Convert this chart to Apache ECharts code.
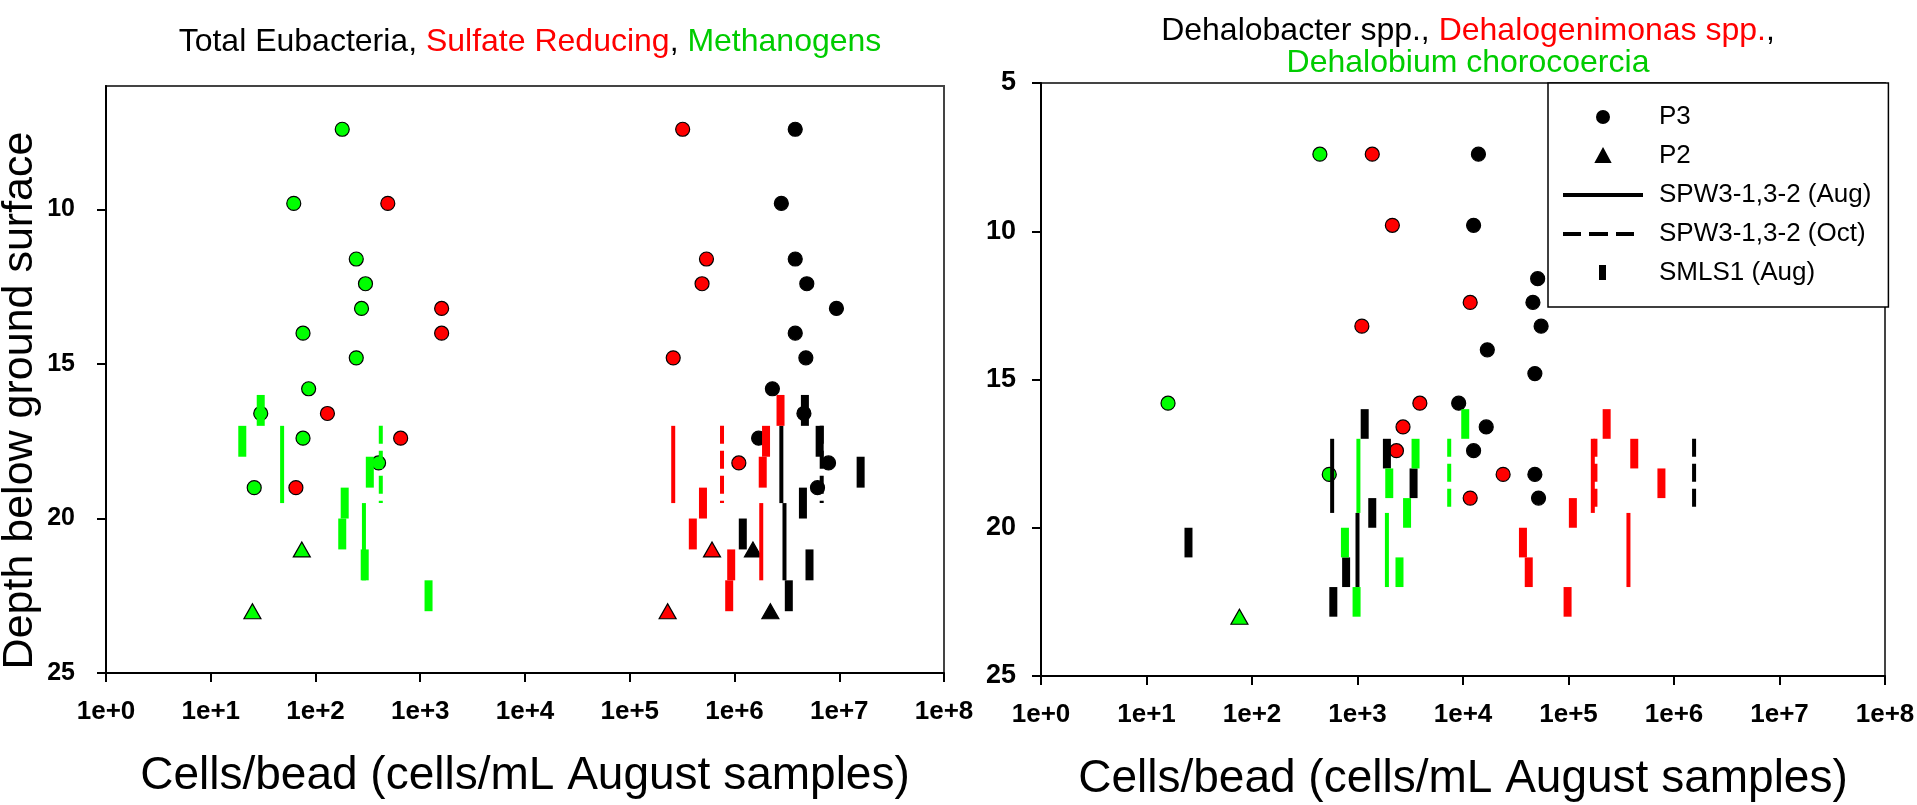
<!DOCTYPE html>
<html>
<head>
<meta charset="utf-8">
<script src="https://cdn.jsdelivr.net/npm/echarts@6/dist/echarts.min.js"></script>
<style>
  html, body { margin: 0; background: #fff; }
  #chart { width: 1917px; height: 805px; }
</style>
</head>
<body>
<div id="chart"></div>
<script>
// depths (ft below ground surface)
const P3_DEPTH = [7.4, 9.8, 11.6, 12.4, 13.2, 14.0, 14.8, 15.8, 16.6, 17.4, 18.2, 19.0];
const P2_DEPTH = [21, 23];
const SMLS1_DEPTH = [[16, 17], [17, 18], [18, 19], [19, 20], [20, 21], [21, 22], [22, 23]];
const SPW_AUG_DEPTH = [[17, 19.5], [19.5, 22]];
const SPW_OCT_DEPTH = [[17, 19.5]];

const X_TICK_LABELS = ['1e+0', '1e+1', '1e+2', '1e+3', '1e+4', '1e+5', '1e+6', '1e+7', '1e+8'];
const LEFT_Y_TICKS = [10, 15, 20, 25];

// left panel: Total Eubacteria / Sulfate Reducing / Methanogens
const eubacteriaP3 = [3.8e6, 2.8e6, 3.8e6, 4.9e6, 9.4e6, 3.8e6, 4.8e6, 2.3e6, 4.6e6, 1.7e6, 7.9e6, 6.2e6];
const eubacteriaP2 = [1.5e6, 2.2e6];
const eubacteriaSMLS1 = [4.7e6, 6.5e6, 1.6e7, 4.5e6, 1.2e6, 5.2e6, 3.3e6];
const eubacteriaSPWAug = [2.8e6, 3.0e6];
const eubacteriaSPWOct = [6.8e6];

const sulfateP3 = [3.2e5, 490, 5.4e5, 4.9e5, 1600, 1600, 2.6e5, null, 130, 650, 1.1e6, 65];
const sulfateP2 = [6.1e5, 2.3e5];
const sulfateSMLS1 = [2.75e6, 2.0e6, 1.86e6, 5.0e5, 4.0e5, 9.3e5, 8.9e5];
const sulfateSPWAug = [2.6e5, 1.8e6];
const sulfateSPWOct = [7.6e5];

const methanoP3 = [180, 62, 245, 300, 275, 76, 245, 86, 30, 76, 400, 26];
const methanoP2 = [74, 25];
const methanoSMLS1 = [30, 20, 330, 190, 180, 295, 1200];
const methanoSPWAug = [48, 290];
const methanoSPWOct = [420];

// right panel: Dehalobacter / Dehalogenimonas / Dehalobium
const dehalobacterP3 = [1.4e4, 1.26e4, 5.1e4, 4.6e4, 5.5e4, 1.7e4, 4.8e4, 9.1e3, 1.66e4, 1.26e4, 4.8e4, 5.2e4];
const dehalobacterP2 = [null, null];
const dehalobacterSMLS1 = [1170, 1900, 3400, 1380, 25, 780, 590];
const dehalobacterSPWAug = [575, 1000];
const dehalobacterSPWOct = [1.55e6];

const dehalogenimonasP3 = [1380, 2140, null, 1.17e4, 1100, null, null, 3900, 2700, 2340, 2.4e4, 1.17e4];
const dehalogenimonasP2 = [null, null];
const dehalogenimonasSMLS1 = [2.3e5, 4.2e5, 7.6e5, 1.1e5, 3.7e4, 4.2e4, 9.8e4];
const dehalogenimonasSPWAug = [1.7e5, 3.7e5];
const dehalogenimonasSPWOct = [1.8e5];

const dehalobiumP3 = [440, null, null, null, null, null, null, 16, null, null, 540, null];
const dehalobiumP2 = [null, 76];
const dehalobiumSMLS1 = [1.05e4, 3550, 2000, 2950, 760, 2500, 980];
const dehalobiumSPWAug = [1020, 1900];
const dehalobiumSPWOct = [7400];

const BLACK = '#000000';
const RED = '#ff0000';
const GREEN = '#00ff00';
const FONT = "'Liberation Sans', Arial, sans-serif";

const NAME_P3 = 'P3';
const NAME_P2 = 'P2';
const NAME_AUG = 'SPW3-1,3-2 (Aug)';
const NAME_OCT = 'SPW3-1,3-2 (Oct)';
const NAME_SMLS = 'SMLS1 (Aug)';

function pointSeries(name, grid, color, values, depths, symbol) {
  const data = [];
  values.forEach((v, i) => {
    if (v != null) data.push([v, depths[i]]);
  });
  return {
    name,
    type: 'scatter',
    xAxisIndex: grid,
    yAxisIndex: grid,
    symbol,
    symbolSize: symbol === 'triangle' ? [17, 15] : 14,
    itemStyle: { color, borderColor: '#000', borderWidth: 1.2, opacity: 1 },
    emphasis: { disabled: true },
    z: 2,
    data,
  };
}

function segmentSeries(name, grid, color, values, depths, kind) {
  const data = values.map((v, i) => [v, depths[i][0], depths[i][1]]);
  return {
    name,
    type: 'custom',
    xAxisIndex: grid,
    yAxisIndex: grid,
    encode: { x: 0, y: [1, 2] },
    itemStyle: { color },
    z: 3,
    data,
    renderItem(params, api) {
      const top = api.coord([api.value(0), api.value(1)]);
      const bot = api.coord([api.value(0), api.value(2)]);
      const c = api.visual('color');
      if (kind === 'dash') {
        return {
          type: 'line',
          shape: { x1: top[0], y1: top[1], x2: bot[0], y2: bot[1] },
          style: { stroke: c, lineWidth: 4, lineDash: [18, 7] },
        };
      }
      const w = kind === 'bar' ? 8 : 4;
      return {
        type: 'rect',
        shape: { x: top[0] - w / 2, y: top[1], width: w, height: bot[1] - top[1] },
        style: { fill: c },
      };
    },
  };
}

function groupSeries(grid, color, p3, p2, smls, aug, oct) {
  return [
    pointSeries(NAME_P3, grid, color, p3, P3_DEPTH, 'circle'),
    pointSeries(NAME_P2, grid, color, p2, P2_DEPTH, 'triangle'),
    segmentSeries(NAME_AUG, grid, color, aug, SPW_AUG_DEPTH, 'line'),
    segmentSeries(NAME_OCT, grid, color, oct, SPW_OCT_DEPTH, 'dash'),
    segmentSeries(NAME_SMLS, grid, color, smls, SMLS1_DEPTH, 'bar'),
  ];
}

const series = [
  ...groupSeries(0, BLACK, eubacteriaP3, eubacteriaP2, eubacteriaSMLS1, eubacteriaSPWAug, eubacteriaSPWOct),
  ...groupSeries(0, RED, sulfateP3, sulfateP2, sulfateSMLS1, sulfateSPWAug, sulfateSPWOct),
  ...groupSeries(0, GREEN, methanoP3, methanoP2, methanoSMLS1, methanoSPWAug, methanoSPWOct),
  ...groupSeries(1, BLACK, dehalobacterP3, dehalobacterP2, dehalobacterSMLS1, dehalobacterSPWAug, dehalobacterSPWOct),
  ...groupSeries(1, RED, dehalogenimonasP3, dehalogenimonasP2, dehalogenimonasSMLS1, dehalogenimonasSPWAug, dehalogenimonasSPWOct),
  ...groupSeries(1, GREEN, dehalobiumP3, dehalobiumP2, dehalobiumSMLS1, dehalobiumSPWAug, dehalobiumSPWOct),
];

function xAxis(grid) {
  return {
    type: 'log',
    logBase: 10,
    gridIndex: grid,
    min: 1,
    max: 1e8,
    splitNumber: 8,
    name: 'Cells/bead (cells/mL August samples)',
    nameLocation: 'middle',
    nameGap: 80,
    nameMoveOverlap: false,
    nameTextStyle: { fontSize: 46, color: '#000', fontFamily: FONT },
    axisLine: { lineStyle: { color: '#000', width: 2 } },
    axisTick: { show: true, inside: false, length: 9, lineStyle: { color: '#000', width: 2 } },
    minorTick: { show: false },
    splitLine: { show: false },
    axisLabel: {
      margin: 26,
      fontSize: 26,
      fontWeight: 'bold',
      color: '#000',
      fontFamily: FONT,
      formatter: (v) => X_TICK_LABELS[Math.round(Math.log10(v))],
    },
  };
}

const titleRich = (lh) => ({
  k: { color: '#000', fontSize: 32, fontWeight: 'normal', lineHeight: lh, fontFamily: FONT },
  r: { color: '#ff0000', fontSize: 32, fontWeight: 'normal', lineHeight: lh, fontFamily: FONT },
  g: { color: '#00cc00', fontSize: 32, fontWeight: 'normal', lineHeight: lh, fontFamily: FONT },
});

const option = {
  animation: false,
  backgroundColor: '#fff',
  textStyle: { fontFamily: FONT },
  title: [
    {
      text: '{k|Total Eubacteria, }{r|Sulfate Reducing}{k|, }{g|Methanogens}',
      left: 525,
      top: 19,
      textAlign: 'center',
      textStyle: { fontWeight: 'normal', rich: titleRich(36) },
    },
    {
      text: '{k|Dehalobacter spp., }{r|Dehalogenimonas spp.}{k|,}\n{g|Dehalobium chorocoercia}',
      left: 1463,
      top: 10,
      textAlign: 'center',
      textStyle: { fontWeight: 'normal', rich: titleRich(32) },
    },
  ],
  legend: {
    orient: 'vertical',
    left: 1548,
    top: 83,
    padding: [21, 17, 21, 14],
    itemWidth: 91,
    itemHeight: 20,
    itemGap: 13,
    borderColor: '#000',
    borderWidth: 1.5,
    backgroundColor: '#fff',
    selectedMode: false,
    z: 10,
    textStyle: { fontSize: 26, color: '#000', fontFamily: FONT },
    data: [
      { name: NAME_P3, icon: 'path://M0,0M91,20M34,10A6,6,0,1,1,46,10A6,6,0,1,1,34,10Z', itemStyle: { color: '#000' } },
      { name: NAME_P2, icon: 'path://M0,0M91,20M40,3L47,16L33,16Z', itemStyle: { color: '#000' } },
      { name: NAME_AUG, icon: 'path://M0,0M91,20M0,8L80,8L80,12L0,12Z', itemStyle: { color: '#000' } },
      { name: NAME_OCT, icon: 'path://M0,0M91,20M0,8L18,8L18,12L0,12ZM26,8L45,8L45,12L26,12ZM53,8L71,8L71,12L53,12Z', itemStyle: { color: '#000' } },
      { name: NAME_SMLS, icon: 'path://M0,0M91,20M36,2L43,2L43,17L36,17Z', itemStyle: { color: '#000' } },
    ],
  },
  grid: [
    { left: 106, top: 86, width: 838, height: 587, show: true, borderColor: '#444', borderWidth: 2, outerBoundsMode: 'none', containLabel: false },
    { left: 1041, top: 83, width: 844, height: 593, show: true, borderColor: '#444', borderWidth: 2, outerBoundsMode: 'none', containLabel: false },
  ],
  xAxis: [xAxis(0), xAxis(1)],
  yAxis: [
    {
      type: 'value',
      gridIndex: 0,
      inverse: true,
      min: 6,
      max: 25,
      name: 'Depth below ground surface',
      nameLocation: 'middle',
      nameRotate: 90,
      nameGap: 64,
      nameMoveOverlap: false,
      nameTextStyle: { fontSize: 43, color: '#000', fontFamily: FONT, padding: [0, 42, 0, 0] },
      axisLine: { show: true, lineStyle: { color: '#000', width: 2 } },
      axisTick: { show: true, length: 9, lineStyle: { color: '#000', width: 2 }, customValues: LEFT_Y_TICKS },
      splitLine: { show: false },
      axisLabel: { margin: 31, fontSize: 25, fontWeight: 'bold', color: '#000', fontFamily: FONT, customValues: LEFT_Y_TICKS },
    },
    {
      type: 'value',
      gridIndex: 1,
      inverse: true,
      min: 5,
      max: 25,
      interval: 5,
      axisLine: { show: true, lineStyle: { color: '#000', width: 2 } },
      axisTick: { show: true, length: 9, lineStyle: { color: '#000', width: 2 } },
      splitLine: { show: false },
      axisLabel: { margin: 25, fontSize: 27, fontWeight: 'bold', color: '#000', fontFamily: FONT },
    },
  ],
  series,
};

const chart = echarts.init(document.getElementById('chart'));
chart.setOption(option);
window.addEventListener('resize', () => chart.resize());
</script>
</body>
</html>
